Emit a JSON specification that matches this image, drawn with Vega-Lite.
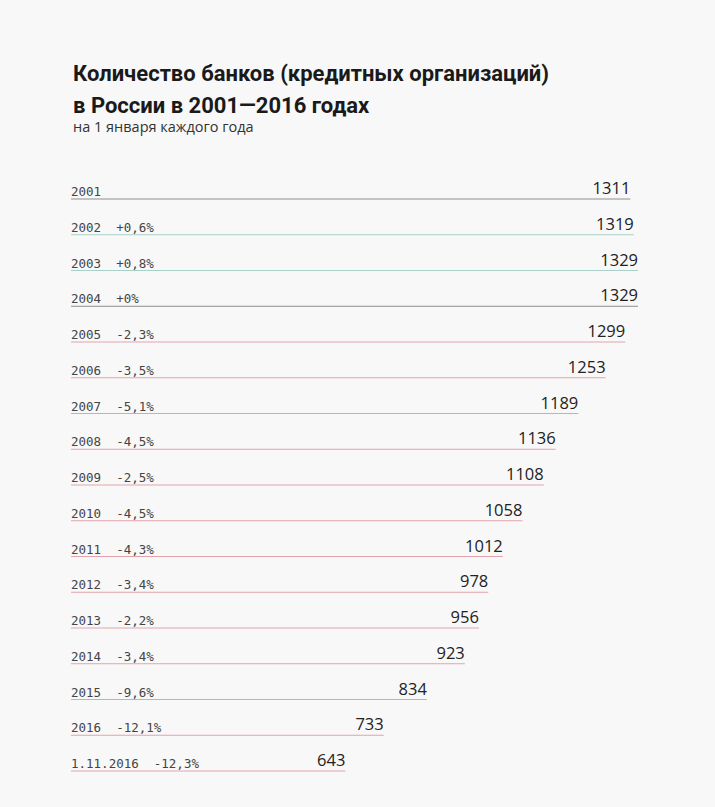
{
  "$schema": "https://vega.github.io/schema/vega-lite/v6.json",
  "autosize": "none",
  "width": 640,
  "height": 572,
  "padding": {"left": 71, "top": 199, "right": 4, "bottom": 36},
  "background": "#f8f8f8",
  "config": {"view": {"stroke": null}},
  "title": {
    "text": ["Количество банков (кредитных организаций)", "в России в 2001—2016 годах"],
    "subtitle": "на 1 января каждого года",
    "anchor": "start",
    "frame": "group",
    "dx": 2,
    "offset": 46,
    "font": "Roboto",
    "fontSize": 22,
    "fontWeight": "bold",
    "lineHeight": 32,
    "color": "#1a1a1a",
    "subtitleFont": "Open Sans",
    "subtitleFontSize": 14.5,
    "subtitleColor": "#333333",
    "subtitlePadding": 3
  },
  "data": {
    "values": [
      {"key": "2001", "label": "2001", "value": 1311, "trend": "flat"},
      {"key": "2002", "label": "2002\u00a0\u00a0+0,6%", "value": 1319, "trend": "up"},
      {"key": "2003", "label": "2003\u00a0\u00a0+0,8%", "value": 1329, "trend": "up"},
      {"key": "2004", "label": "2004\u00a0\u00a0+0%", "value": 1329, "trend": "flat"},
      {"key": "2005", "label": "2005\u00a0\u00a0-2,3%", "value": 1299, "trend": "down"},
      {"key": "2006", "label": "2006\u00a0\u00a0-3,5%", "value": 1253, "trend": "down"},
      {"key": "2007", "label": "2007\u00a0\u00a0-5,1%", "value": 1189, "trend": "down"},
      {"key": "2008", "label": "2008\u00a0\u00a0-4,5%", "value": 1136, "trend": "down"},
      {"key": "2009", "label": "2009\u00a0\u00a0-2,5%", "value": 1108, "trend": "down"},
      {"key": "2010", "label": "2010\u00a0\u00a0-4,5%", "value": 1058, "trend": "down"},
      {"key": "2011", "label": "2011\u00a0\u00a0-4,3%", "value": 1012, "trend": "down"},
      {"key": "2012", "label": "2012\u00a0\u00a0-3,4%", "value": 978, "trend": "down"},
      {"key": "2013", "label": "2013\u00a0\u00a0-2,2%", "value": 956, "trend": "down"},
      {"key": "2014", "label": "2014\u00a0\u00a0-3,4%", "value": 923, "trend": "down"},
      {"key": "2015", "label": "2015\u00a0\u00a0-9,6%", "value": 834, "trend": "down"},
      {"key": "2016", "label": "2016\u00a0\u00a0-12,1%", "value": 733, "trend": "down"},
      {"key": "1.11.2016", "label": "1.11.2016\u00a0\u00a0-12,3%", "value": 643, "trend": "down"}
    ]
  },
  "encoding": {
    "y": {"field": "key", "type": "nominal", "sort": null, "scale": {"type": "point", "padding": 0}, "axis": null}
  },
  "layer": [
    {
      "mark": {"type": "bar", "height": 1},
      "encoding": {
        "x": {"field": "value", "type": "quantitative", "scale": {"domain": [0, 1500], "nice": false, "zero": true}, "axis": null},
        "color": {"field": "trend", "type": "nominal", "scale": {"domain": ["flat", "up", "down"], "range": ["#8e8e8e", "#a8d2c9", "#e2a4ac"]}, "legend": null}
      }
    },
    {
      "mark": {"type": "text", "align": "left", "baseline": "alphabetic", "dy": -3, "font": "DejaVu Sans Mono", "fontSize": 12.5, "color": "#444444"},
      "encoding": {
        "x": {"datum": 0, "type": "quantitative"},
        "text": {"field": "label", "type": "nominal"}
      }
    },
    {
      "mark": {"type": "text", "align": "right", "baseline": "alphabetic", "dy": -5, "font": "Open Sans", "fontSize": 16.5, "color": "#222222"},
      "encoding": {
        "x": {"field": "value", "type": "quantitative"},
        "text": {"field": "value", "type": "quantitative", "format": "d"}
      }
    }
  ]
}
